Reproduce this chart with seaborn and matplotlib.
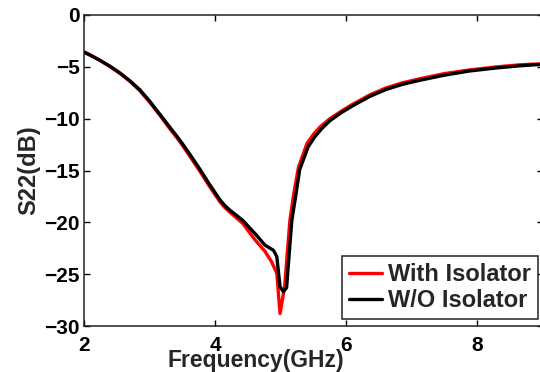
import numpy as np
import pandas as pd
import seaborn as sns
import matplotlib.pyplot as plt

# S22 vs frequency
freq_with = [2.0, 2.1, 2.25, 2.4, 2.55, 2.7, 2.85, 3.0, 3.16, 3.3, 3.46, 3.6, 3.77, 3.9,
             4.07, 4.15, 4.23, 4.42, 4.61, 4.76, 4.86, 4.94, 4.99, 5.06, 5.10, 5.14, 5.20,
             5.27, 5.40, 5.50, 5.60, 5.75, 5.93, 6.10, 6.36, 6.60, 6.85, 7.12, 7.50, 7.88,
             8.30, 8.65, 9.0]
s22_with = [-3.55, -3.85, -4.4, -5.0, -5.65, -6.4, -7.3, -8.4, -9.7, -10.9, -12.2, -13.5, -15.1, -16.4,
            -18.0, -18.6, -19.05, -20.1, -21.7, -22.8, -23.8, -24.9, -28.8, -26.2, -23.0, -19.8, -17.2,
            -14.7, -12.4, -11.5, -10.8, -10.0, -9.25, -8.6, -7.7, -7.05, -6.55, -6.15, -5.65, -5.3,
            -5.0, -4.8, -4.7]

freq_wo = [2.0, 2.1, 2.25, 2.4, 2.55, 2.7, 2.85, 3.0, 3.16, 3.3, 3.46, 3.6, 3.77, 3.9,
           4.07, 4.15, 4.23, 4.42, 4.61, 4.76, 4.89, 4.94, 4.99, 5.04, 5.09, 5.11, 5.17,
           5.22, 5.29, 5.42, 5.52, 5.62, 5.75, 5.93, 6.10, 6.36, 6.60, 6.85, 7.12, 7.50,
           7.88, 8.30, 8.65, 9.0]
s22_wo = [-3.6, -3.9, -4.4, -4.95, -5.6, -6.35, -7.2, -8.3, -9.6, -10.75, -12.05, -13.3, -14.9, -16.2,
          -17.8, -18.4, -18.85, -19.8, -21.1, -22.2, -22.7, -23.3, -26.2, -26.7, -26.3, -24.6, -19.8,
          -17.8, -14.9, -12.7, -11.75, -11.0, -10.2, -9.4, -8.75, -7.85, -7.2, -6.7, -6.3, -5.8,
          -5.4, -5.1, -4.9, -4.75]

labels = ['With Isolator', 'W/O Isolator']

df = pd.concat([
    pd.DataFrame({'f': freq_with, 's22': s22_with, 'case': labels[0]}),
    pd.DataFrame({'f': freq_wo, 's22': s22_wo, 'case': labels[1]}),
])

sns.set_style('ticks')
plt.rcParams['font.family'] = ['Liberation Sans', 'DejaVu Sans']
plt.rcParams['font.weight'] = 'bold'
plt.rcParams['axes.labelweight'] = 'bold'

fig = plt.figure(figsize=(5.4, 3.72), dpi=100)
ax = fig.add_axes([84 / 540, 46 / 372, 459 / 540, 311 / 372])

sns.lineplot(data=df, x='f', y='s22', hue='case', hue_order=labels,
             palette=['#ff0000', '#000000'], estimator=None, sort=True,
             linewidth=2.4, ax=ax)

ax.set_xlim(2, 9)
ax.set_ylim(-30, 0)
ax.set_xticks([2, 4, 6, 8])
ax.set_yticks([-30, -25, -20, -15, -10, -5, 0])
ax.tick_params(direction='in', top=True, right=True, length=4, width=1,
               labelsize=15, colors='black')
ax.tick_params(axis='x', pad=7)
ax.tick_params(axis='y', pad=3)
for sp in ax.spines.values():
    sp.set_linewidth(1.1)
    sp.set_color('#222222')

ax.set_xlabel('Frequency(GHz)', fontsize=16.5, fontweight='bold')
ax.xaxis.set_label_coords(0.375, -0.074)
ax.set_ylabel('S22(dB)', fontsize=17, fontweight='bold', labelpad=3)

leg = ax.legend(loc='lower right', bbox_to_anchor=(0.989, 0.0225), borderaxespad=0,
                fontsize=17, handlelength=1.4, handletextpad=0.25, labelspacing=0.12,
                borderpad=0.3, fancybox=False, framealpha=1, edgecolor='#222222',
                title=None)
leg.get_frame().set_linewidth(1.1)
for t in leg.get_texts():
    t.set_fontweight('bold')

fig.savefig('out.png', dpi=100)
